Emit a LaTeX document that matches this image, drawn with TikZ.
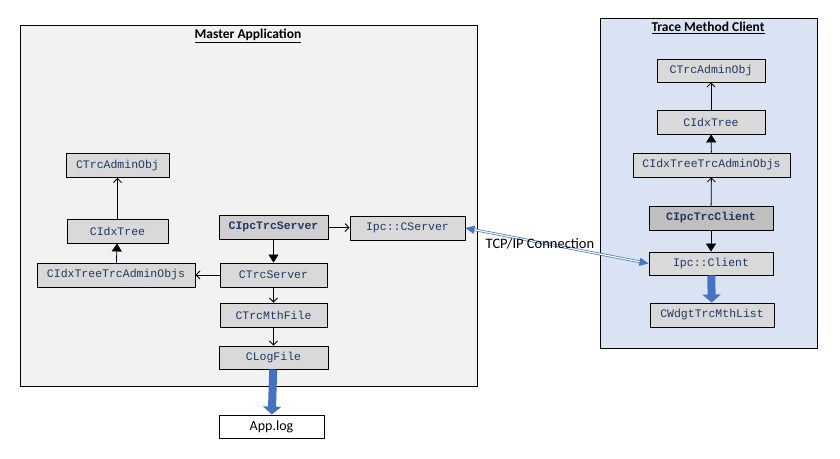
\documentclass[tikz,border=0pt]{standalone}
\usepackage{fontspec}
\setmainfont{Carlito}
\newfontfamily\codefont{Liberation Mono}
\usetikzlibrary{arrows.meta}

\definecolor{masterbg}{HTML}{F2F2F2}
\definecolor{clientbg}{HTML}{DAE3F3}
\definecolor{classbg}{HTML}{D9D9D9}
\definecolor{ipcbg}{HTML}{D0CECE}
\definecolor{ipcclbg}{HTML}{BFBFBF}
\definecolor{codeblue}{HTML}{203864}
\definecolor{flowblue}{HTML}{4472C4}

\begin{document}
\begin{tikzpicture}[x=1pt,y=-1pt,
    cls/.style={draw,line width=0.9pt,fill=classbg,inner sep=0pt,minimum height=24pt,
      font=\codefont\fontsize{11.5}{13}\selectfont,text=codeblue},
    usesarr/.style={-{Straight Barb[length=4pt,width=8pt]},line width=0.8pt},
    inhearr/.style={-{Triangle[length=8pt,width=10pt]},line width=0.8pt},
    flowarr/.style={-{Triangle[length=8pt,width=18pt]},line width=8pt,draw=flowblue}]
    \useasboundingbox (0,0) rectangle (840,458);
    % the two processes
    \draw[line width=1pt,fill=masterbg] (20,25) rectangle (477,386);
    \draw[line width=1pt,fill=clientbg] (600,18) rectangle (817,348);
    \node[font=\bfseries\fontsize{13.5}{15}\selectfont] (mtitle) at (248,36) {\underline{Master Application}};
    \node[font=\bfseries\fontsize{13.5}{15}\selectfont] (ctitle) at (708,28) {\underline{Trace Method Client}};

    % master application
    \node[cls,minimum width=103pt] (tAdmin) at (117.5,165.5) {CTrcAdminObj};
    \node[cls,minimum width=101pt] (tTree) at (117.5,231) {CIdxTree};
    \node[cls,minimum width=158pt] (tTreeObjs) at (116,275) {CIdxTreeTrcAdminObjs};
    \node[cls,fill=ipcbg,font=\codefont\bfseries\fontsize{11.5}{13}\selectfont,minimum width=109pt] (srvIpc) at (273.5,227) {CIpcTrcServer};
    \node[cls,minimum width=115pt] (srvSocket) at (407.5,228) {Ipc::CServer};
    \node[cls,minimum width=107pt] (srvTrc) at (273.5,275) {CTrcServer};
    \node[cls,minimum width=107pt] (mthFile) at (273.5,315) {CTrcMthFile};
    \node[cls,minimum width=109pt,minimum height=23pt] (logFile) at (273.5,357.5) {CLogFile};
    \node[draw,line width=0.9pt,fill=white,inner sep=0pt,minimum width=105pt,minimum height=23pt,
      font=\fontsize{14}{16}\selectfont] (appLog) at (271.5,426.5) {App.log};

    \draw[usesarr] (tTree) to (tAdmin);
    \draw[inhearr] (tTreeObjs) to (tTree);
    \draw[usesarr] (srvTrc) to (tTreeObjs);
    \draw[usesarr] (srvIpc) to (srvSocket);
    \draw[inhearr] (srvIpc) to (srvTrc);
    \draw[usesarr] (srvTrc) to (mthFile);
    \draw[usesarr] (mthFile) to (logFile);
    \draw[flowarr] (logFile) to (appLog);

    % trace method client
    \node[cls,minimum width=108pt,minimum height=23pt] (cAdmin) at (711,70.5) {CTrcAdminObj};
    \node[cls,minimum width=108pt] (cTree) at (711,122) {CIdxTree};
    \node[cls,minimum width=157pt] (cTreeObjs) at (711.5,165) {CIdxTreeTrcAdminObjs};
    \node[cls,fill=ipcclbg,font=\codefont\bfseries\fontsize{11.5}{13}\selectfont,minimum width=124pt] (cIpc) at (711,218) {CIpcTrcClient};
    \node[cls,minimum width=124pt,minimum height=23pt] (cSocket) at (711,263.5) {Ipc::Client};
    \node[cls,minimum width=124pt] (cList) at (712,315) {CWdgtTrcMthList};

    \draw[usesarr] (cTree) to (cAdmin);
    \draw[inhearr] (cTreeObjs) to (cTree);
    \draw[usesarr] (cIpc) to (cTreeObjs);
    \draw[inhearr] (cIpc) to (cSocket);
    \draw[flowarr] (cSocket) to (cList);

    % connection between the processes
    \draw[{Triangle[length=9pt,width=8pt]}-{Triangle[length=9pt,width=8pt]},draw=flowblue,
      double=white,double distance=1.2pt,line width=0.7pt] (srvSocket.east) to (cSocket.west);
    \node[font=\fontsize{14.5}{16}\selectfont] (tcpLabel) at (540,244) {TCP/IP Connection};
\end{tikzpicture}
\end{document}
